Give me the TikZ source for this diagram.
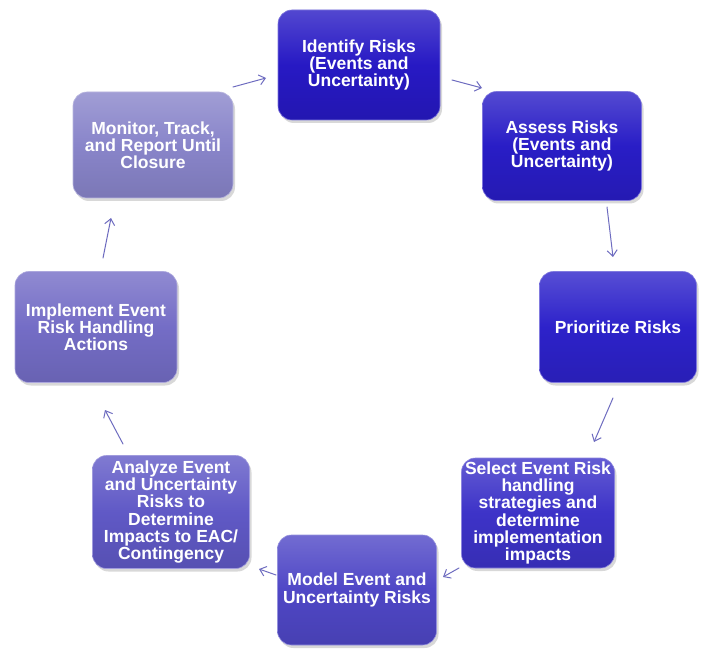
\documentclass[tikz,border=0pt]{standalone}
\usepackage{fontspec}
\setmainfont{Liberation Sans}
\usetikzlibrary{arrows.meta,shadows}

% stage colours, darkest first
\definecolor{cIdentify}{HTML}{2719C4}
\definecolor{cAssess}{HTML}{291DC6}
\definecolor{cPrior}{HTML}{2D22CA}
\definecolor{cSelect}{HTML}{3D33C8}
\definecolor{cModel}{HTML}{4F47C6}
\definecolor{cAnalyze}{HTML}{6059C6}
\definecolor{cImpl}{HTML}{746DC6}
\definecolor{cMonitor}{HTML}{8985CA}
\definecolor{arrowc}{HTML}{6E6CC0}

\tikzset{
  stage/.style={rounded corners=14pt, inner sep=2pt, align=center,
    text=white, font=\fontsize{17.5}{17.2}\selectfont\bfseries,
    top color=#1!80!white, bottom color=#1!90!black, middle color=#1,
    draw=#1!60!white, line width=0.6pt,
    drop shadow={shadow xshift=2pt, shadow yshift=-3pt, opacity=0.3}},
  size/.style n args={2}{minimum width=#1pt, minimum height=#2pt},
  flow/.style={draw=arrowc, line width=1pt, line cap=round,
    -{Straight Barb[length=6pt,width=10pt]}}
}

\begin{document}
\begin{tikzpicture}[x=1pt, y=-1pt]
  \fill[white] (0,0) rectangle (705,650);
  \useasboundingbox (0,0) rectangle (705,650);

  % the eight stages of the cycle
  \node[stage=cIdentify, size={162}{110}] (identify) at (359,65)
    {Identify Risks\\(Events and\\Uncertainty)};
  \node[stage=cAssess, size={159}{109}] (assess) at (562,146)
    {Assess Risks\\(Events and\\Uncertainty)};
  \node[stage=cPrior, size={157}{111}] (prior) at (618,327)
    {Prioritize Risks};
  \node[stage=cSelect, size={153}{110}] (select) at (538,513)
    {Select Event Risk\\handling\\strategies and\\determine\\implementation\\impacts};
  \node[stage=cModel, size={159}{110}] (model) at (357,590)
    {Model Event and\\Uncertainty Risks};
  \node[stage=cAnalyze, size={157}{113}] (analyze) at (171,512)
    {Analyze Event\\and Uncertainty\\Risks to\\Determine\\Impacts to EAC/\\Contingency};
  \node[stage=cImpl, size={162}{111}] (impl) at (96,327)
    {Implement Event\\Risk Handling\\Actions};
  \node[stage=cMonitor, size={160}{106}] (monitor) at (153,145)
    {Monitor, Track,\\and Report Until\\Closure};

  % arrow ends in the gaps between stages
  \coordinate (mi0) at (233,87);  \coordinate (mi1) at (266,78);
  \coordinate (ia0) at (452,80);  \coordinate (ia1) at (482,88);
  \coordinate (ap0) at (607,207); \coordinate (ap1) at (613,257);
  \coordinate (ps0) at (613,398); \coordinate (ps1) at (594,442);
  \coordinate (sm0) at (459,568); \coordinate (sm1) at (443,577);
  \coordinate (ma0) at (276,575); \coordinate (ma1) at (259,569);
  \coordinate (an0) at (123,444); \coordinate (an1) at (105,410);
  \coordinate (im0) at (103,258); \coordinate (im1) at (111,218);

  \draw[flow] (mi0) -- (mi1);
  \draw[flow] (ia0) -- (ia1);
  \draw[flow] (ap0) -- (ap1);
  \draw[flow] (ps0) -- (ps1);
  \draw[flow] (sm0) -- (sm1);
  \draw[flow] (ma0) -- (ma1);
  \draw[flow] (an0) -- (an1);
  \draw[flow] (im0) -- (im1);
\end{tikzpicture}
\end{document}
